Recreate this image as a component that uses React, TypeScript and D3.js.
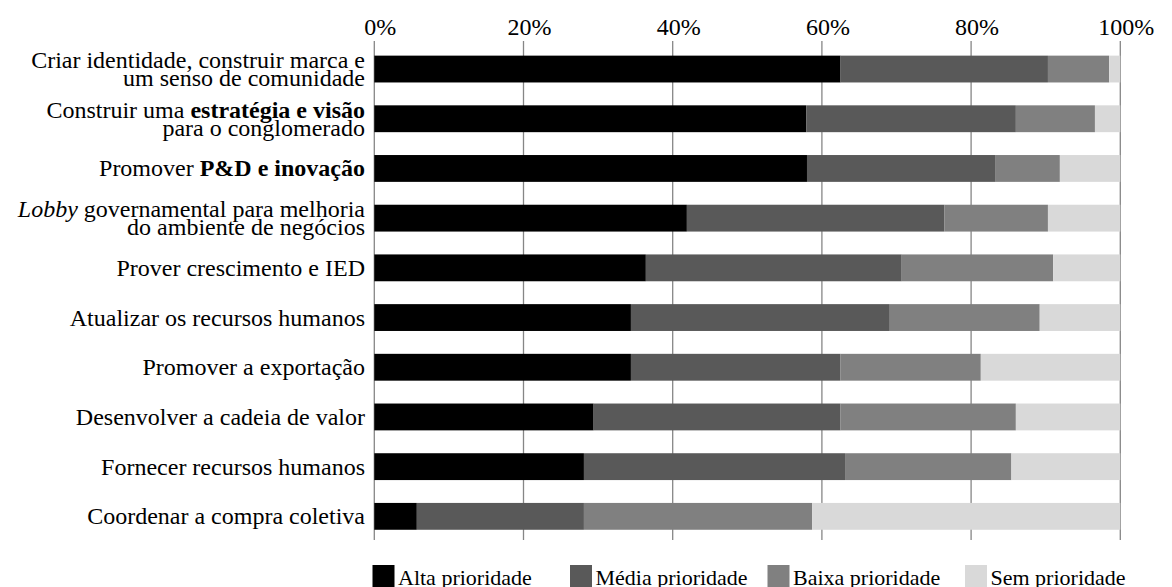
import React from "react";
import * as d3 from "d3";

// Objectives, top to bottom. Each label is a list of lines, each line a list of styled runs.
type Run = { t: string; b?: boolean; i?: boolean };
const categoryLabels: Run[][][] = [
  [[{ t: "Criar identidade, construir marca e" }], [{ t: "um senso de comunidade" }]],
  [[{ t: "Construir uma " }, { t: "estratégia e visão", b: true }], [{ t: "para o conglomerado" }]],
  [[{ t: "Promover " }, { t: "P&D e inovação", b: true }]],
  [[{ t: "Lobby", i: true }, { t: " governamental para melhoria" }], [{ t: "do ambiente de negócios" }]],
  [[{ t: "Prover crescimento e IED" }]],
  [[{ t: "Atualizar os recursos humanos" }]],
  [[{ t: "Promover a exportação" }]],
  [[{ t: "Desenvolver a cadeia de valor" }]],
  [[{ t: "Fornecer recursos humanos" }]],
  [[{ t: "Coordenar a compra coletiva" }]],
];
const categories = categoryLabels.map((_, i) => `c${i}`);

// Share of respondents (%) per priority level
const alta = [62.5, 57.9, 58.0, 41.9, 36.4, 34.4, 34.4, 29.4, 28.1, 5.7];
const media = [27.8, 28.1, 25.3, 34.5, 34.3, 34.7, 28.1, 33.1, 35.0, 22.4];
const baixa = [8.2, 10.6, 8.6, 13.9, 20.3, 20.1, 18.8, 23.5, 22.3, 30.6];
const sem = [1.5, 3.4, 8.1, 9.7, 9.0, 10.8, 18.7, 14.0, 14.6, 41.3];

const seriesKeys = ["alta", "media", "baixa", "sem"];
const seriesNames = ["Alta prioridade", "Média prioridade", "Baixa prioridade", "Sem prioridade"];
const seriesColors = ["#000000", "#595959", "#808080", "#d9d9d9"];
const ticks = [0, 20, 40, 60, 80, 100];

const W = 1172;
const H = 587;
const FONT = "Liberation Serif, Times New Roman, DejaVu Serif, serif";

export default function App() {
  const x = d3.scaleLinear().domain([0, 100]).range([374.3, 1120.3]);
  const y = d3
    .scaleBand<string>()
    .domain(categories)
    .range([44.2, 541.2])
    .paddingInner(0.46)
    .paddingOuter(0.23);

  const rows = categories.map((c, i) => ({
    cat: c,
    alta: alta[i],
    media: media[i],
    baixa: baixa[i],
    sem: sem[i],
  }));
  const stacked = d3.stack<any>().keys(seriesKeys)(rows);

  const bw = y.bandwidth();
  const legendX0 = 372.5;
  const legendStep = 197.5;
  const txt = { fontFamily: FONT } as React.CSSProperties;

  return (
    <svg
      width={W}
      height={H}
      style={{ position: "absolute", left: 0, top: 0, background: "#fff", fontFamily: FONT }}
    >
      {/* vertical gridlines */}
      {ticks.map((t) => (
        <line
          key={`g${t}`}
          x1={x(t)}
          x2={x(t)}
          y1={41}
          y2={540}
          stroke="#868686"
          strokeWidth={1.3}
        />
      ))}
      {/* top axis labels */}
      {ticks.map((t) => (
        <text key={`t${t}`} x={x(t) + 6} y={35} fontSize={24} textAnchor="middle" fill="#000" style={txt}>
          {`${t}%`}
        </text>
      ))}
      {/* stacked bars */}
      {stacked.map((s, si) =>
        s.map((d, i) => (
          <rect
            key={`${si}-${i}`}
            x={x(d[0])}
            width={x(d[1]) - x(d[0])}
            y={y(categories[i])!}
            height={bw}
            fill={seriesColors[si]}
          />
        ))
      )}
      {/* category labels */}
      {categoryLabels.map((lines, i) => {
        const cy = y(categories[i])! + bw / 2;
        const spacing = 18.5;
        const first = cy + 8 - ((lines.length - 1) * spacing) / 2;
        return lines.map((runs, li) => (
          <text
            key={`l${i}-${li}`}
            x={365}
            y={first + li * spacing}
            fontSize={24}
            textAnchor="end"
            fill="#000"
            style={txt}
          >
            {runs.map((r, ri) => (
              <tspan
                key={ri}
                fontWeight={r.b ? "bold" : "normal"}
                fontStyle={r.i ? "italic" : "normal"}
              >
                {r.t}
              </tspan>
            ))}
          </text>
        ));
      })}
      {/* legend */}
      {seriesNames.map((n, i) => {
        const lx = legendX0 + i * legendStep;
        return (
          <g key={`lg${i}`}>
            <rect x={lx} y={565} width={22} height={22} fill={seriesColors[i]} />
            <text x={lx + 25.5} y={585} fontSize={22} fill="#000" style={txt}>
              {n}
            </text>
          </g>
        );
      })}
    </svg>
  );
}
